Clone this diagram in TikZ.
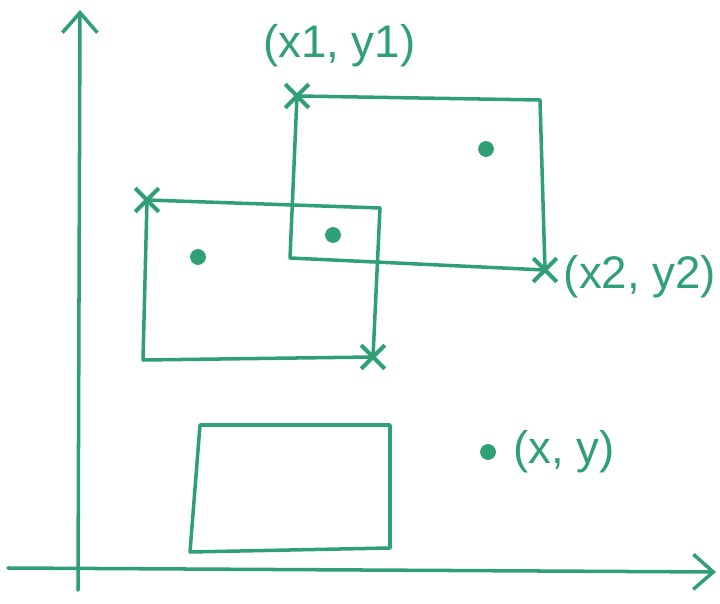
\documentclass[tikz,border=0pt]{standalone}
\usepackage{fontspec}
\setsansfont{Liberation Sans}
\usetikzlibrary{positioning,arrows.meta,shapes.misc}
\definecolor{pen}{HTML}{2F9F76}

\begin{document}
\begin{tikzpicture}[
  x=0.02cm, y=-0.02cm,
  font=\sffamily,
  >={Straight Barb[length=4mm,width=7mm,line width=2pt]},
  ink/.style={draw=pen,line width=2pt,line cap=round,line join=round},
  axis/.style={ink,->},
  box/.style={ink},
  corner/.style={cross out,draw=pen,line width=2.4pt,minimum size=11pt,inner sep=0pt},
  dot/.style={circle,fill=pen,minimum size=9pt,inner sep=0pt},
  lbl/.style={text=pen,font=\sffamily\fontsize{26}{28}\selectfont,inner sep=1pt},
]
\useasboundingbox (0,0) rectangle (720,604);

%------------------------------------------------------------------ axes ---
\coordinate (ys) at (78,590);
\coordinate (ye) at (80,10);
\coordinate (xs) at (8,568);
\coordinate (xe) at (716,572);
\draw[axis] (ys) -- (ye);
\draw[axis] (xs) -- (xe);

%----------------------------------------------------------- upper box ---
\node[corner] (a1) at (297,96) {};
\node[corner] (a2) at (545,270) {};
\draw[box] (a1.center) -- (540,100) -- (a2.center) -- (290,258) -- cycle;
\node[dot] (ca) at (486,149) {};
\node[lbl,above=3mm of a1,xshift=24pt] (pa1) {(x1, y1)};
\node[lbl,right=1mm of a2,yshift=-4pt] (pa2) {(x2, y2)};

%----------------------------------------------------------- left box ---
\node[corner] (b1) at (147,200) {};
\node[corner] (b2) at (373,357) {};
\draw[box] (b1.center) -- (380,208) -- (b2.center) -- (143,360) -- cycle;
\node[dot] (cb) at (198,257) {};

%------------------------------------------------------------ overlap ---
\node[dot] (cab) at (333,235) {};

%---------------------------------------------------------- lower box ---
\draw[box] (200,425) -- (390,425) -- (390,548) -- (190,552) -- cycle;

%--------------------------------------------------------- free point ---
\node[dot] (p) at (488,452) {};
\node[lbl,right=3mm of p] (pl) {(x, y)};

\end{tikzpicture}
\end{document}
